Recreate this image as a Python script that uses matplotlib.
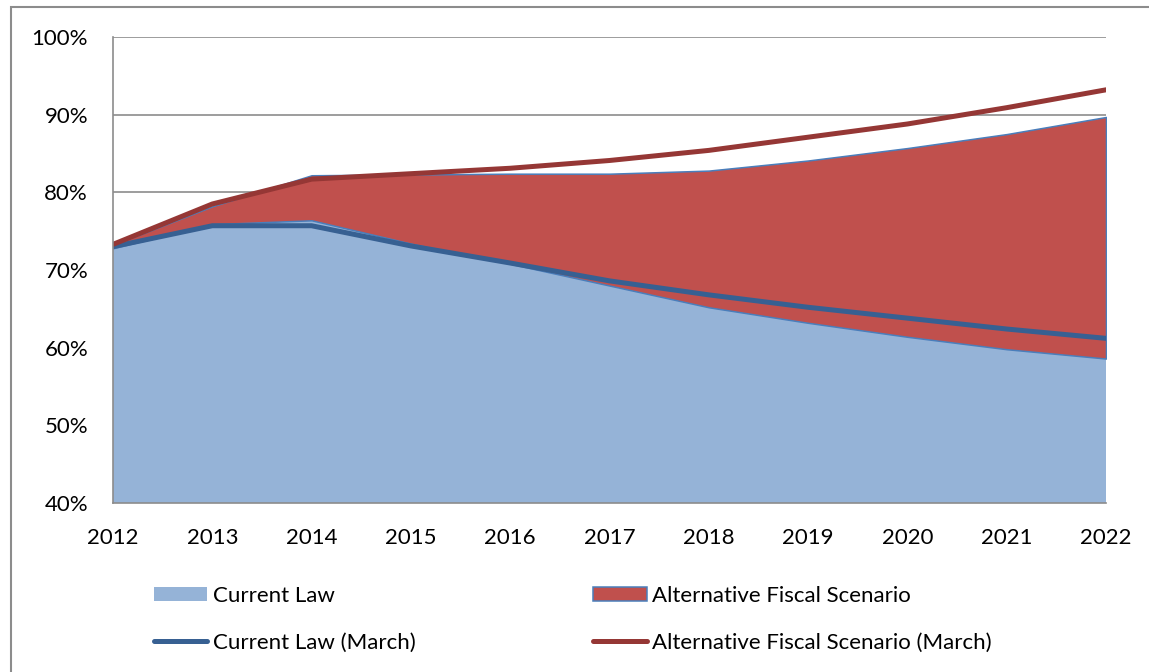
import matplotlib
matplotlib.use("Agg")
import matplotlib.pyplot as plt
from matplotlib.patches import Rectangle

years = [2012, 2013, 2014, 2015, 2016, 2017, 2018, 2019, 2020, 2021, 2022]
current_law = [72.8, 75.9, 76.4, 73.4, 70.8, 68.0, 65.2, 63.2, 61.4, 59.8, 58.6]
alt_fiscal = [73.2, 78.2, 82.2, 82.3, 82.4, 82.4, 82.8, 84.1, 85.7, 87.5, 89.7]
current_law_march = [73.0, 75.7, 75.7, 73.1, 70.9, 68.6, 66.8, 65.2, 63.8, 62.4, 61.2]
alt_fiscal_march = [73.3, 78.5, 81.7, 82.4, 83.1, 84.1, 85.4, 87.1, 88.8, 90.9, 93.2]
y_ticks = [40, 50, 60, 70, 80, 90, 100]

plt.rcParams['font.family'] = ['Lato', 'DejaVu Sans']

fig = plt.figure(figsize=(11.49, 6.72), dpi=100)
ax = fig.add_axes([113 / 1149, 1 - 503 / 672, 993 / 1149, 466 / 672])

# outer frame of the exhibit (runs off the right and bottom)
fig.patches.append(Rectangle((11 / 1149, -0.1), 1.2, 1 - 7 / 672 + 0.1,
                             transform=fig.transFigure, fill=False,
                             edgecolor='#8c8c8c', lw=1.5))

for v in y_ticks[1:]:
    ax.axhline(v, color='#8c8c8c', lw=1.2, zorder=0)

cl_area = ax.fill_between(years, 0, current_law, facecolor='#95B3D7',
                          edgecolor='none', zorder=1, label='Current Law')
afs_area = ax.fill_between(years, current_law, alt_fiscal, facecolor='#C0504D',
                           edgecolor='#4A7EBB', lw=1.1, zorder=2,
                           label='Alternative Fiscal Scenario')
cl_line, = ax.plot(years, current_law_march, color='#376092', lw=3.6,
                   solid_capstyle='round', zorder=3, label='Current Law (March)')
afs_line, = ax.plot(years, alt_fiscal_march, color='#953735', lw=3.6,
                    solid_capstyle='round', zorder=4,
                    label='Alternative Fiscal Scenario (March)')

ax.set_xlim(2012, 2022)
ax.set_ylim(40, 100)
ax.set_xticks(years)
ax.set_yticks(y_ticks)
ax.set_yticklabels([f'{v}%' for v in y_ticks])
ax.tick_params(length=0, labelsize=16, colors='black')
ax.tick_params(axis='y', pad=18)
ax.tick_params(axis='x', pad=18)
for s in ['top', 'right']:
    ax.spines[s].set_visible(False)
for s in ['left', 'bottom']:
    ax.spines[s].set_color('#8c8c8c')
    ax.spines[s].set_linewidth(1.2)
    ax.spines[s].set_zorder(5)

# legend filled column by column: first column the current-law entries
fig.legend(handles=[cl_area, cl_line, afs_area, afs_line], ncol=2,
           loc='upper left', bbox_to_anchor=(134 / 1149, 1 - 566 / 672),
           frameon=False, fontsize=16, handlelength=2.4, handleheight=0.6,
           handletextpad=0.25, columnspacing=8.0, labelspacing=1.2)

fig.savefig('out.png', dpi=100)
